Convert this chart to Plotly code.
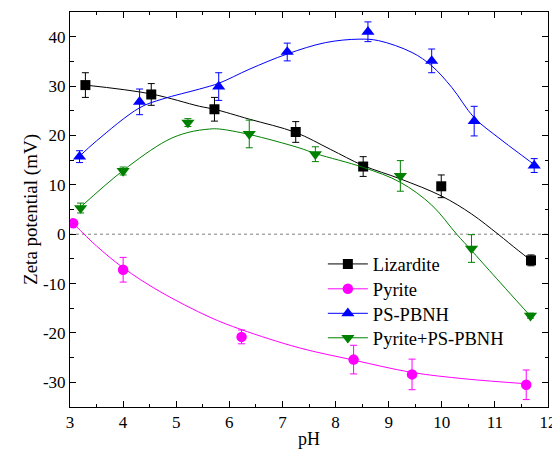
import plotly.graph_objects as go

# ---- measured data (pH, zeta potential in mV, error) ----
lizardite_ph = [3.29, 4.53, 5.72, 7.25, 8.52, 9.99, 11.68]
lizardite_zeta = [30.2, 28.3, 25.3, 20.7, 13.7, 9.7, -5.3]
lizardite_err = [2.5, 2.2, 2.4, 2.1, 2.0, 2.3, 1.1]

pyrite_ph = [3.06, 4.0, 6.23, 8.34, 9.44, 11.59]
pyrite_zeta = [2.2, -7.2, -20.8, -25.4, -28.4, -30.5]
pyrite_err = [0.5, 2.5, 1.4, 2.9, 3.1, 3.0]

pspbnh_ph = [3.18, 4.31, 5.80, 7.09, 8.61, 9.81, 10.61, 11.74]
pspbnh_zeta = [15.7, 26.8, 29.9, 36.9, 41.0, 35.1, 22.9, 13.9]
pspbnh_err = [1.2, 2.6, 2.8, 1.8, 2.0, 2.4, 3.0, 1.4]

mix_ph = [3.2, 4.0, 5.22, 6.375, 7.62, 9.22, 10.56, 11.67]
mix_zeta = [5.3, 12.8, 22.6, 20.3, 16.2, 11.8, -2.9, -16.5]
mix_err = [1.0, 0.8, 0.8, 2.8, 1.5, 3.1, 2.8, 0.5]

# ---- fitted curves ----
lizardite_fit_ph = [3.29, 4.53, 5.44, 5.72, 6.375, 7.25, 7.9, 8.52, 9.22, 10.0, 10.56, 11.06, 11.44, 11.68]
lizardite_fit_zeta = [30.2, 28.4, 25.9, 25.3, 23.3, 20.6, 17.2, 13.9, 11.2, 7.7, 4.1, 0.0, -3.3, -5.3]

pyrite_fit_ph = [3.06, 3.5, 4.0, 4.69, 5.63, 6.22, 7.31, 8.34, 9.44, 10.44, 11.6]
pyrite_fit_zeta = [2.2, -2.4, -6.8, -11.6, -16.8, -19.3, -23.0, -25.5, -28.0, -29.3, -30.3]

pspbnh_fit_ph = [3.18, 3.5, 4.31, 4.75, 5.44, 5.81, 6.375, 7.09, 7.81, 8.44, 8.81, 9.44, 9.81, 10.19, 10.61, 11.06, 11.44, 11.74]
pspbnh_fit_zeta = [15.8, 18.9, 25.6, 27.4, 29.4, 30.6, 33.4, 36.5, 38.8, 39.5, 39.2, 36.8, 34.1, 29.7, 23.6, 19.6, 16.5, 14.1]

mix_fit_ph = [3.2, 4.0, 4.81, 5.22, 5.63, 5.81, 6.375, 7.31, 7.63, 8.53, 9.22, 9.81, 10.28, 10.56, 10.9, 11.67]
mix_fit_zeta = [5.5, 12.9, 18.9, 20.6, 21.3, 21.3, 20.2, 17.5, 16.3, 13.5, 10.5, 5.9, 0.0, -3.3, -7.4, -16.6]

# ---- axis ticks ----
x_ticks = [3, 4, 5, 6, 7, 8, 9, 10, 11, 12]
y_ticks = [-30, -20, -10, 0, 10, 20, 30, 40]
y_ticktext = ["-30", "-20", "-10", "0", "10", "20", "30", "40"]

series = [
    ("Lizardite", lizardite_ph, lizardite_zeta, lizardite_err, lizardite_fit_ph, lizardite_fit_zeta,
     "#000000", "square", 10),
    ("Pyrite", pyrite_ph, pyrite_zeta, pyrite_err, pyrite_fit_ph, pyrite_fit_zeta,
     "#FF00FF", "circle", 10.5),
    ("PS-PBNH", pspbnh_ph, pspbnh_zeta, pspbnh_err, pspbnh_fit_ph, pspbnh_fit_zeta,
     "#0000FF", "triangle-up", 11.5),
    ("Pyrite+PS-PBNH", mix_ph, mix_zeta, mix_err, mix_fit_ph, mix_fit_zeta,
     "#008000", "triangle-down", 11.5),
]
legend_ids = ["legend", "legend2", "legend3", "legend4"]
legend_rows_y = [0.361, 0.298, 0.236, 0.174]

FONT = "Liberation Serif"

fig = go.Figure()
for (name, px, py, pe, fx, fy, color, symbol, size), lid in zip(series, legend_ids):
    fig.add_trace(go.Scatter(
        x=fx, y=fy, mode="lines", line=dict(color=color, width=1, shape="spline", smoothing=1.0),
        showlegend=False, hoverinfo="skip"))
    fig.add_trace(go.Scatter(
        x=px, y=py, mode="markers",
        marker=dict(color=color, symbol=symbol, size=size, line=dict(width=0)),
        error_y=dict(type="data", array=pe, visible=True, color=color, thickness=1, width=3.5),
        showlegend=False))
    fig.add_trace(go.Scatter(
        x=[None], y=[None], mode="lines+markers", name=name, legend=lid,
        line=dict(color=color, width=1),
        marker=dict(color=color, symbol=symbol, size=size, line=dict(width=0))))

fig.add_shape(type="line", xref="paper", x0=0, x1=1, yref="y", y0=0, y1=0,
              line=dict(color="#808080", width=1, dash="dot"), layer="below")

legend_style = dict(x=0.529, xanchor="left", yanchor="middle",
                    bgcolor="rgba(0,0,0,0)", borderwidth=0,
                    font=dict(family=FONT, size=18.5, color="black"), itemwidth=40)

# page body has an 8px default margin, so the figure is 8px smaller and margins shifted
fig.update_layout(
    width=552, height=449,
    margin=dict(l=62, r=10, t=3, b=50, pad=0),
    paper_bgcolor="white", plot_bgcolor="white",
    font=dict(family=FONT, size=17, color="black"),
    showlegend=True,
    **{lid: dict(y=ly, **legend_style) for lid, ly in zip(legend_ids, legend_rows_y)},
)
fig.update_xaxes(
    range=[3, 12], tickvals=x_ticks, ticks="inside", ticklen=6, tickwidth=1, tickcolor="black",
    minor=dict(dtick=0.5, ticks="inside", ticklen=3, tickwidth=1, tickcolor="black"),
    showline=True, linecolor="black", linewidth=1, mirror="allticks",
    showgrid=False, zeroline=False,
    tickfont=dict(family=FONT, size=17, color="black"),
    title=dict(text="pH", font=dict(family=FONT, size=18, color="black"), standoff=0),
)
fig.update_yaxes(
    range=[-35, 45], tickvals=y_ticks, ticktext=y_ticktext, ticks="inside", ticklen=6, tickwidth=1,
    tickcolor="black",
    minor=dict(tickvals=[-35, -25, -15, -5, 5, 15, 25, 35, 45], ticks="inside", ticklen=3.5,
               tickwidth=1, tickcolor="black"),
    showline=True, linecolor="black", linewidth=1, mirror="allticks",
    showgrid=False, zeroline=False,
    tickfont=dict(family=FONT, size=17, color="black"),
    title=dict(text="Zeta potential (mV)", font=dict(family=FONT, size=19, color="black"), standoff=0),
)

fig.write_html("out.html")
